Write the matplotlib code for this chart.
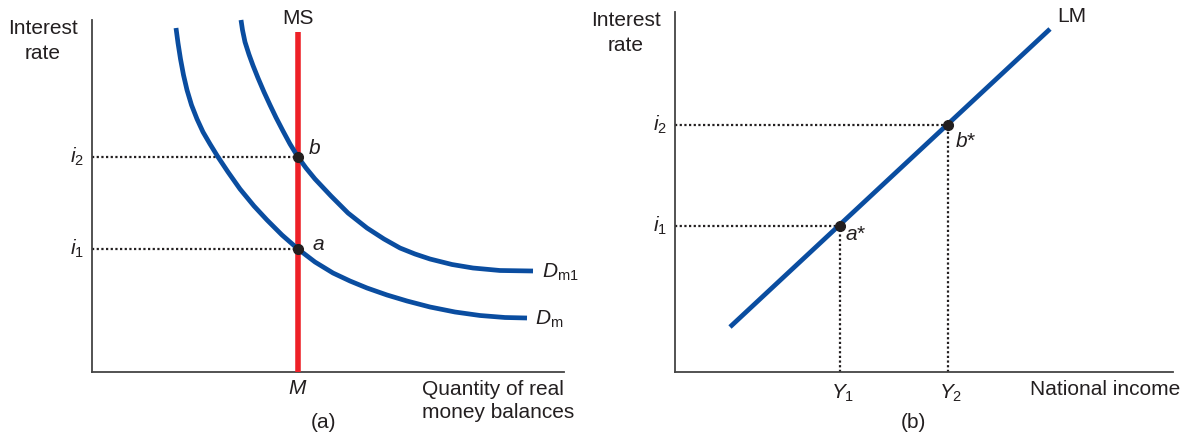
import matplotlib
matplotlib.use('Agg')
import matplotlib.pyplot as plt

plt.rcParams['font.family'] = 'Liberation Sans'
plt.rcParams['mathtext.fontset'] = 'custom'
plt.rcParams['mathtext.rm'] = 'Liberation Sans'
plt.rcParams['mathtext.it'] = 'Liberation Sans:italic'

# ------------------ data ------------------
# panel (a): money demand curves, quantity vs interest rate
dm_x = [84, 86, 88.5, 91.5, 95, 99.5, 105, 111, 118, 126, 136, 148, 162,
        175, 190, 206, 223, 241, 258, 275, 295, 315, 338, 363, 388, 413, 435]
dm_y = [344, 329, 313, 297, 282, 267, 253, 240, 228, 215, 200, 183, 166,
        152, 137, 123, 110, 99, 91, 84, 77, 71, 65, 60, 56.5, 54.5, 54]

dm1_x = [149, 150.5, 153, 157, 161, 166, 172, 178, 184, 191, 198, 206, 214,
         223, 239, 256, 275, 292, 308, 323, 338, 360, 381, 408, 441]
dm1_y = [352, 342, 330, 317.5, 306.5, 294, 280, 267, 254.5, 241, 228, 215,
         204, 193, 176, 159, 144, 133, 124, 118, 113, 107.5, 104, 101.5, 101]

ms_x = 206
ms_top = 340
rates_a = [123, 215]          # i1, i2

# panel (b): LM curve, income vs interest rate
lm_x = [55, 375]
lm_y = [45, 343]
incomes = [165, 273]          # Y1, Y2
rates_b = [146, 247]          # i1, i2
points_b = ['$a$*', '$b$*']

BLUE = '#0a4da0'
RED = '#ee2027'
INK = '#231f20'
AXIS = '#444444'
FS = 15

fig = plt.figure(figsize=(11.94, 4.37), dpi=100)
ax1 = fig.add_axes([92 / 1194, 65 / 437, 472 / 1194, 352 / 437])
ax2 = fig.add_axes([675 / 1194, 65 / 437, 498 / 1194, 360 / 437])
ax1.set_xlim(0, 472)
ax1.set_ylim(0, 352)
ax2.set_xlim(0, 498)
ax2.set_ylim(0, 360)

for ax in (ax1, ax2):
    ax.spines[['top', 'right']].set_visible(False)
    ax.spines[['left', 'bottom']].set_color(AXIS)
    ax.spines[['left', 'bottom']].set_linewidth(1.3)
    ax.set_xticks([])
    ax.set_yticks([])
    ax.patch.set_alpha(0)

dots = dict(linestyle=(0, (1, 1.1)), linewidth=1.6, color=INK, clip_on=False)
curve = dict(color=BLUE, linewidth=3.4, solid_capstyle='butt',
             solid_joinstyle='round', clip_on=False, zorder=4)

# ------------------ panel (a) ------------------
for r in rates_a:
    ax1.plot([0, ms_x], [r, r], **dots)
ax1.plot([ms_x, ms_x], [0, ms_top], color=RED, linewidth=4,
         solid_capstyle='butt', clip_on=False, zorder=3)
ax1.plot(dm_x, dm_y, **curve)
ax1.plot(dm1_x, dm1_y, **curve)
ax1.plot([ms_x] * 2, rates_a, 'o', color=INK, markersize=7, zorder=5,
         clip_on=False)

for r, lab in zip(rates_a, ['$i_1$', '$i_2$']):
    ax1.text(-8, r, lab, ha='right', va='center', fontsize=FS, color=INK)
ax1.text(220, 127, '$a$', ha='left', va='center', fontsize=FS, color=INK)
ax1.text(216, 224, '$b$', ha='left', va='center', fontsize=FS, color=INK)
ax1.text(ms_x, 354, 'MS', ha='center', va='center', fontsize=FS, color=INK)
ax1.text(ms_x, -16, '$M$', ha='center', va='center', fontsize=FS, color=INK)
ax1.text(450, 94, r'$D_{\mathrm{m1}}$', ha='left', va='baseline',
         fontsize=FS, color=INK)
ax1.text(443, 47, r'$D_{\mathrm{m}}$', ha='left', va='baseline',
         fontsize=FS, color=INK)
ax1.text(-49, 353, 'Interest\nrate', ha='center', va='top', fontsize=FS,
         color=INK, linespacing=1.38)
ax1.text(330, -8, 'Quantity of real\nmoney balances', ha='left', va='top',
         fontsize=FS, color=INK, linespacing=1.28)
ax1.text(232, -51, '(a)', ha='center', va='center', fontsize=FS, color=INK)

# ------------------ panel (b) ------------------
for y_, r in zip(incomes, rates_b):
    ax2.plot([0, y_], [r, r], **dots)
    ax2.plot([y_, y_], [0, r], **dots)
ax2.plot(lm_x, lm_y, **curve)
ax2.plot(incomes, rates_b, 'o', color=INK, markersize=7, zorder=5,
         clip_on=False)

for r, lab in zip(rates_b, ['$i_1$', '$i_2$']):
    ax2.text(-8, r, lab, ha='right', va='center', fontsize=FS, color=INK)
for y_, lab in zip(incomes, ['$Y_1$', '$Y_2$']):
    ax2.text(y_ + 3, -11, lab, ha='center', va='top', fontsize=FS, color=INK)
ax2.text(170, 132, points_b[0], ha='left', va='baseline', fontsize=FS,
         color=INK)
ax2.text(280, 225, points_b[1], ha='left', va='baseline', fontsize=FS,
         color=INK)
ax2.text(397, 356, 'LM', ha='center', va='center', fontsize=FS, color=INK)
ax2.text(-49, 361, 'Interest\nrate', ha='center', va='top', fontsize=FS,
         color=INK, linespacing=1.38)
ax2.text(355, -8, 'National income', ha='left', va='top', fontsize=FS,
         color=INK)
ax2.text(238, -51, '(b)', ha='center', va='center', fontsize=FS, color=INK)

fig.savefig('out.png', dpi=100)
